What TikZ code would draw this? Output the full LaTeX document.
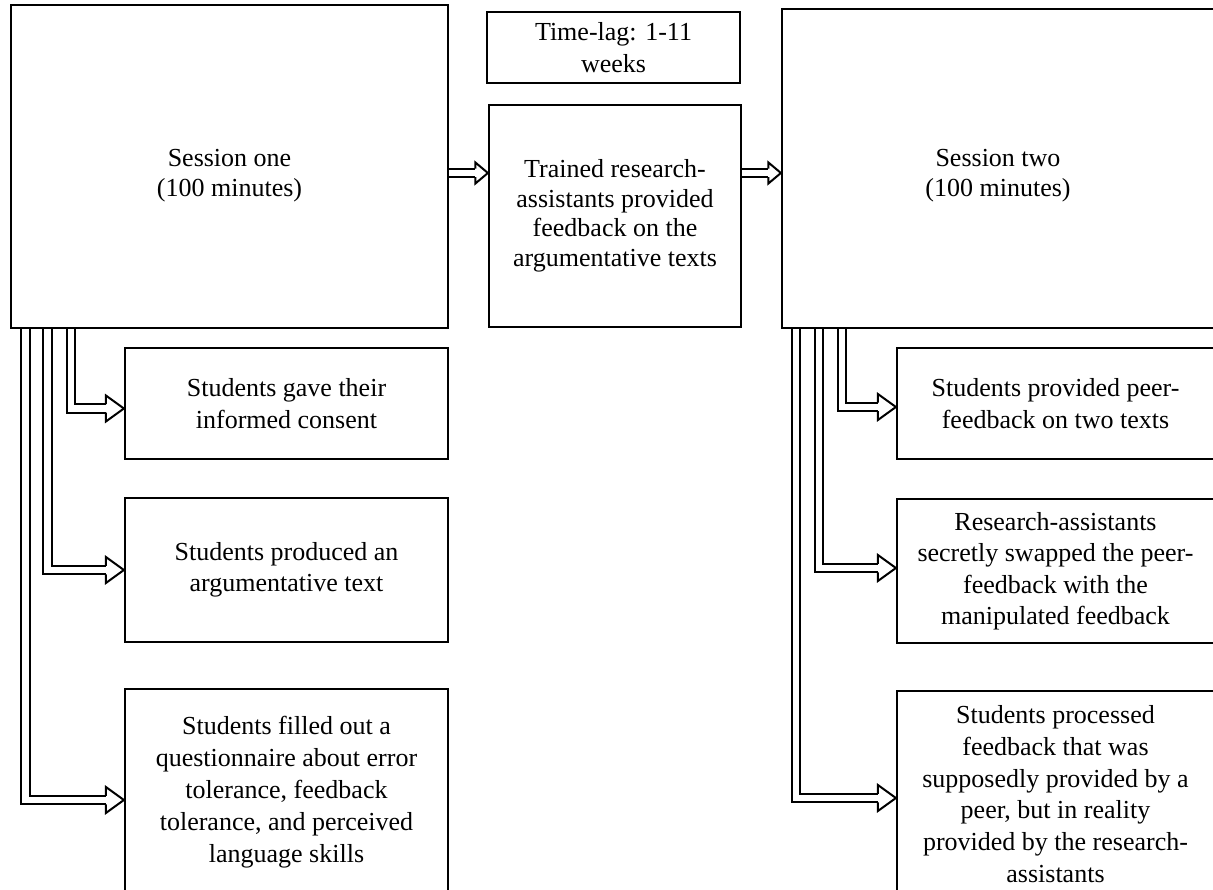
\documentclass[tikz,border=0pt]{standalone}
\usepackage{fontspec}
\setmainfont{Liberation Serif}
\usetikzlibrary{calc,backgrounds}
\tikzset{
  box/.style={draw, line width=2.2pt, inner sep=0pt, align=center,
    font=\fontsize{26}{31.5}\selectfont},
  lbl/.style={inner sep=0pt, align=center, font=\fontsize{26}{30}\selectfont},
  dbl/.style={draw, double=white, line width=2pt, double distance=6.5pt, line join=miter},
  headst/.style={draw, line width=2pt, line join=miter},
}
\newcommand\elbowarrow[4]{% #1 source, #2 x offset, #3 target, #4 tip y offset
  \coordinate (tip) at ($(#3.west)+(0,#4)$);
  \coordinate (top) at ($(#1.south west)+(#2,0)$);
  \draw[dbl] (top) |- ($(tip)+(-18,0)$);
  \draw[headst] ($(tip)+(-18,-4.25)$) -- ($(tip)+(-18,-13)$) -- (tip)
    -- ($(tip)+(-18,13)$) -- ($(tip)+(-18,4.25)$);
}
\newcommand\straightarrow[3]{% #1 source, #2 target, #3 y
  \coordinate (tip) at (#2.west |- 0,#3);
  \coordinate (top) at (#1.east |- 0,#3);
  \draw[dbl] (top) -- ($(tip)+(-12.5,0)$);
  \draw[headst] ($(tip)+(-12.5,-4.25)$) -- ($(tip)+(-12.5,-10.5)$) -- (tip)
    -- ($(tip)+(-12.5,10.5)$) -- ($(tip)+(-12.5,4.25)$);
}
\begin{document}
\begin{tikzpicture}[x=1pt,y=-1pt]
\useasboundingbox (0,0) rectangle (1213,890);
\clip (0,0) rectangle (1213,890);
% top row
\node[box, minimum width=437pt, minimum height=323pt,
  label={[lbl, yshift=-9pt]center:Session one\\(100 minutes)}] (s1) at (229.5,166.5) {};
\node[box, minimum width=253pt, minimum height=71pt, font=\fontsize{26}{32.5}\selectfont] (tl) at (613.5,47.5) {Time-lag: 1-11\\weeks};
\node[box, minimum width=252pt, minimum height=222pt, font=\fontsize{26}{29.5}\selectfont] (tr) at (615,216) {Trained research-\\assistants provided\\feedback on the\\argumentative texts};
\node[box, minimum width=432pt, minimum height=319pt,
  label={[lbl, yshift=-7pt]center:Session two\\(100 minutes)}] (s2) at (998,168.5) {};
% left column
\node[box, minimum width=323pt, minimum height=111pt] (l1) at (286.5,403.5) {Students gave their\\informed consent};
\node[box, minimum width=323pt, minimum height=144pt] (l2) at (286.5,570) {Students produced an\\argumentative text};
\node[box, minimum width=323pt, minimum height=206pt, font=\fontsize{26}{32}\selectfont] (l3) at (286.5,792) {Students filled out a\\questionnaire about error\\tolerance, feedback\\tolerance, and perceived\\language skills};
% right column
\node[box, minimum width=317pt, minimum height=111pt] (r1) at (1055.5,403.5) {Students provided peer-\\feedback on two texts};
\node[box, minimum width=317pt, minimum height=144pt] (r2) at (1055.5,571) {Research-assistants\\secretly swapped the peer-\\feedback with the\\manipulated feedback};
\node[box, minimum width=317pt, minimum height=206pt, font=\fontsize{26}{31.7}\selectfont] (r3) at (1055.5,794) {Students processed\\feedback that was\\supposedly provided by a\\peer, but in reality\\provided by the research-\\assistants};
% connectors
\begin{scope}[on background layer]
\straightarrow{s1}{tr}{173}
\straightarrow{tr}{s2}{173}
\elbowarrow{s1}{61}{l1}{5}
\elbowarrow{s1}{37.5}{l2}{0}
\elbowarrow{s1}{15.5}{l3}{8}
\elbowarrow{s2}{61}{r1}{3.5}
\elbowarrow{s2}{38}{r2}{-3}
\elbowarrow{s2}{15}{r3}{4}
\end{scope}
\end{tikzpicture}
\end{document}
